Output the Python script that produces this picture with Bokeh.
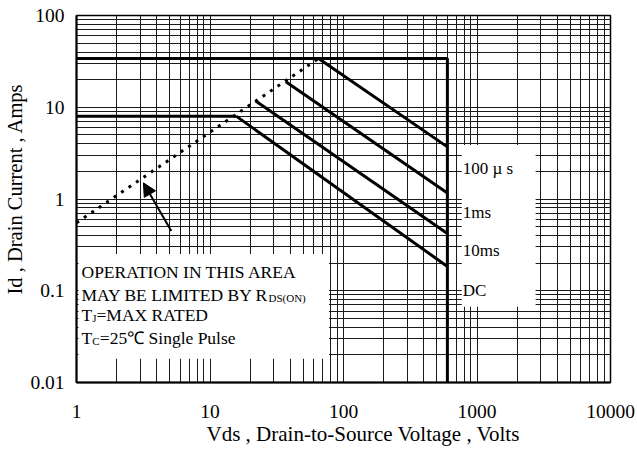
from bokeh.plotting import figure
from bokeh.models import FixedTicker, CustomJSTickFormatter, Arrow, NormalHead, Title
from bokeh.core.properties import value
from bokeh.embed import file_html
from bokeh.resources import INLINE

# ---- axis ticks / labels ----
x_ticks = [1, 10, 100, 1000, 10000]
x_tick_labels = ["1", "10", "100", "1000", "10000"]
y_ticks = [0.01, 0.1, 1, 10, 100]
y_tick_labels = ["0.01", "0.1", "1", "10", "100"]
x_title = "Vds , Drain-to-Source Voltage , Volts"
y_title = "Id , Drain Current , Amps"

# ---- limits ----
rds_vds = [1, 65]          # R_DS(on) limit (dotted)
rds_id = [0.55, 34]
id_pulse = 34              # pulsed drain current limit
id_cont = 8                # continuous drain current limit
vds_max = 600              # max drain-source voltage
id_floor = 0.01

# ---- pulse curves ----
curve_names = ["100 \u00b5 s", "1ms", "10ms", "DC"]
curve_v_start = [65, 37, 22, 15.7]
curve_i_start = [34, 19, 11.7, 8]
curve_i_end = [3.7, 1.16, 0.42, 0.184]

note_lines = ["OPERATION IN THIS AREA", "MAY BE LIMITED BY R", "T", "T"]

FONT = "Liberation Serif"

x_minor = [d * k for d in [1, 10, 100, 1000] for k in range(2, 10)]
y_minor = [d * k for d in [0.01, 0.1, 1, 10] for k in range(2, 10)]

p = figure(width=637, height=451, x_axis_type="log", y_axis_type="log",
           x_range=(1, 10000), y_range=(0.01, 100),
           output_backend="svg", toolbar_location=None,
           min_border_left=75, min_border_right=27, min_border_top=15, min_border_bottom=69)
p.background_fill_color = "white"
p.border_fill_color = "white"
p.outline_line_color = "black"
p.outline_line_width = 1.5

xt = FixedTicker(ticks=x_ticks, minor_ticks=x_minor)
yt = FixedTicker(ticks=y_ticks, minor_ticks=y_minor)
p.xaxis.ticker = xt
p.yaxis.ticker = yt
p.xgrid.ticker = xt
p.ygrid.ticker = yt

fmt_code = """
for (let i = 0; i < tvals.length; i++) {
  if (Math.abs(Math.log10(tick) - Math.log10(tvals[i])) < 1e-6) return tlabels[i];
}
return '';
"""
p.xaxis.formatter = CustomJSTickFormatter(args=dict(tvals=x_ticks, tlabels=x_tick_labels), code=fmt_code)
p.yaxis.formatter = CustomJSTickFormatter(args=dict(tvals=y_ticks, tlabels=y_tick_labels), code=fmt_code)

for g in (p.xgrid, p.ygrid):
    g.grid_line_color = "#1a1a1a"
    g.grid_line_width = 1
    g.minor_grid_line_color = "#1a1a1a"
    g.minor_grid_line_width = 1

for ax in (p.xaxis, p.yaxis):
    ax.axis_line_color = "black"
    ax.axis_line_width = 2
    ax.major_tick_out = 0
    ax.major_tick_in = 0
    ax.minor_tick_out = 0
    ax.minor_tick_in = 0
    ax.major_label_text_font = FONT
    ax.major_label_text_font_size = "19.5px"
    ax.major_label_text_color = "black"

p.xaxis.major_label_standoff = 22
p.yaxis.major_label_standoff = 12

# axis titles (placed off the frame centre as in the original)
p.add_layout(Title(text=x_title, align="left", offset=130, vertical_align="top", standoff=2,
                   text_font=FONT, text_font_size="21px", text_font_style="normal",
                   text_color="black"), "below")
p.add_layout(Title(text=y_title, align="left", offset=88, vertical_align="bottom", standoff=3,
                   text_font=FONT, text_font_size="20.5px", text_font_style="normal",
                   text_color="black"), "left")

# white panels that hide the grid under the notes
p.quad(left=[1.035], right=[77.9], top=[0.252], bottom=[0.0181],
       fill_color="white", line_color=None)
p.quad(left=[769], right=[2748], top=[3.88], bottom=[0.0668],
       fill_color="white", line_color=None)

# limit envelope
p.line([1, vds_max, vds_max], [id_pulse, id_pulse, id_floor], line_color="black", line_width=3)
p.line([1, curve_v_start[3]], [id_cont, id_cont], line_color="black", line_width=3)
# pulse lines
p.multi_line(xs=[[v, vds_max] for v in curve_v_start],
             ys=[[a, b] for a, b in zip(curve_i_start, curve_i_end)],
             line_color="black", line_width=3)
# Rds(on) limit
p.line(rds_vds, rds_id, line_color="black", line_width=3, line_dash="3 6")

# arrow
p.add_layout(Arrow(end=NormalHead(size=13, fill_color="black", line_color="black"),
                   x_start=5.13, y_start=0.449, x_end=3.17, y_end=1.5,
                   line_color="black", line_width=2))

# legend labels
p.text(x=[782] * 4, y=[2.165, 0.711, 0.277, 0.0998], text=curve_names,
       text_font=value(FONT), text_font_size="17px", text_baseline="middle",
       text_align="left", text_color="black")

# notes
nx = 1.09
p.text(x=[nx] * 4, y=[0.162, 0.090, 0.0546, 0.0305], text=note_lines,
       text_font=value(FONT), text_font_size="17.5px", text_baseline="alphabetic",
       text_align="left", text_color="black")
p.text(x=[nx], y=[0.090], text=["DS(ON)"], x_offset=187, y_offset=3,
       text_font=value(FONT), text_font_size="11px", text_baseline="alphabetic", text_color="black")
p.text(x=[nx, nx], y=[0.0546, 0.0305], text=["J", "C"], x_offset=10.7, y_offset=3,
       text_font=value(FONT), text_font_size="11px", text_baseline="alphabetic", text_color="black")
p.text(x=[nx], y=[0.0546], text=["=MAX RATED"], x_offset=15,
       text_font=value(FONT), text_font_size="17.5px", text_baseline="alphabetic", text_color="black")
p.text(x=[nx], y=[0.0305], text=["=25\u2103  Single Pulse"], x_offset=18.3,
       text_font=value(FONT), text_font_size="17.5px", text_baseline="alphabetic", text_color="black")

open("out.html", "w").write(file_html(p, INLINE))
